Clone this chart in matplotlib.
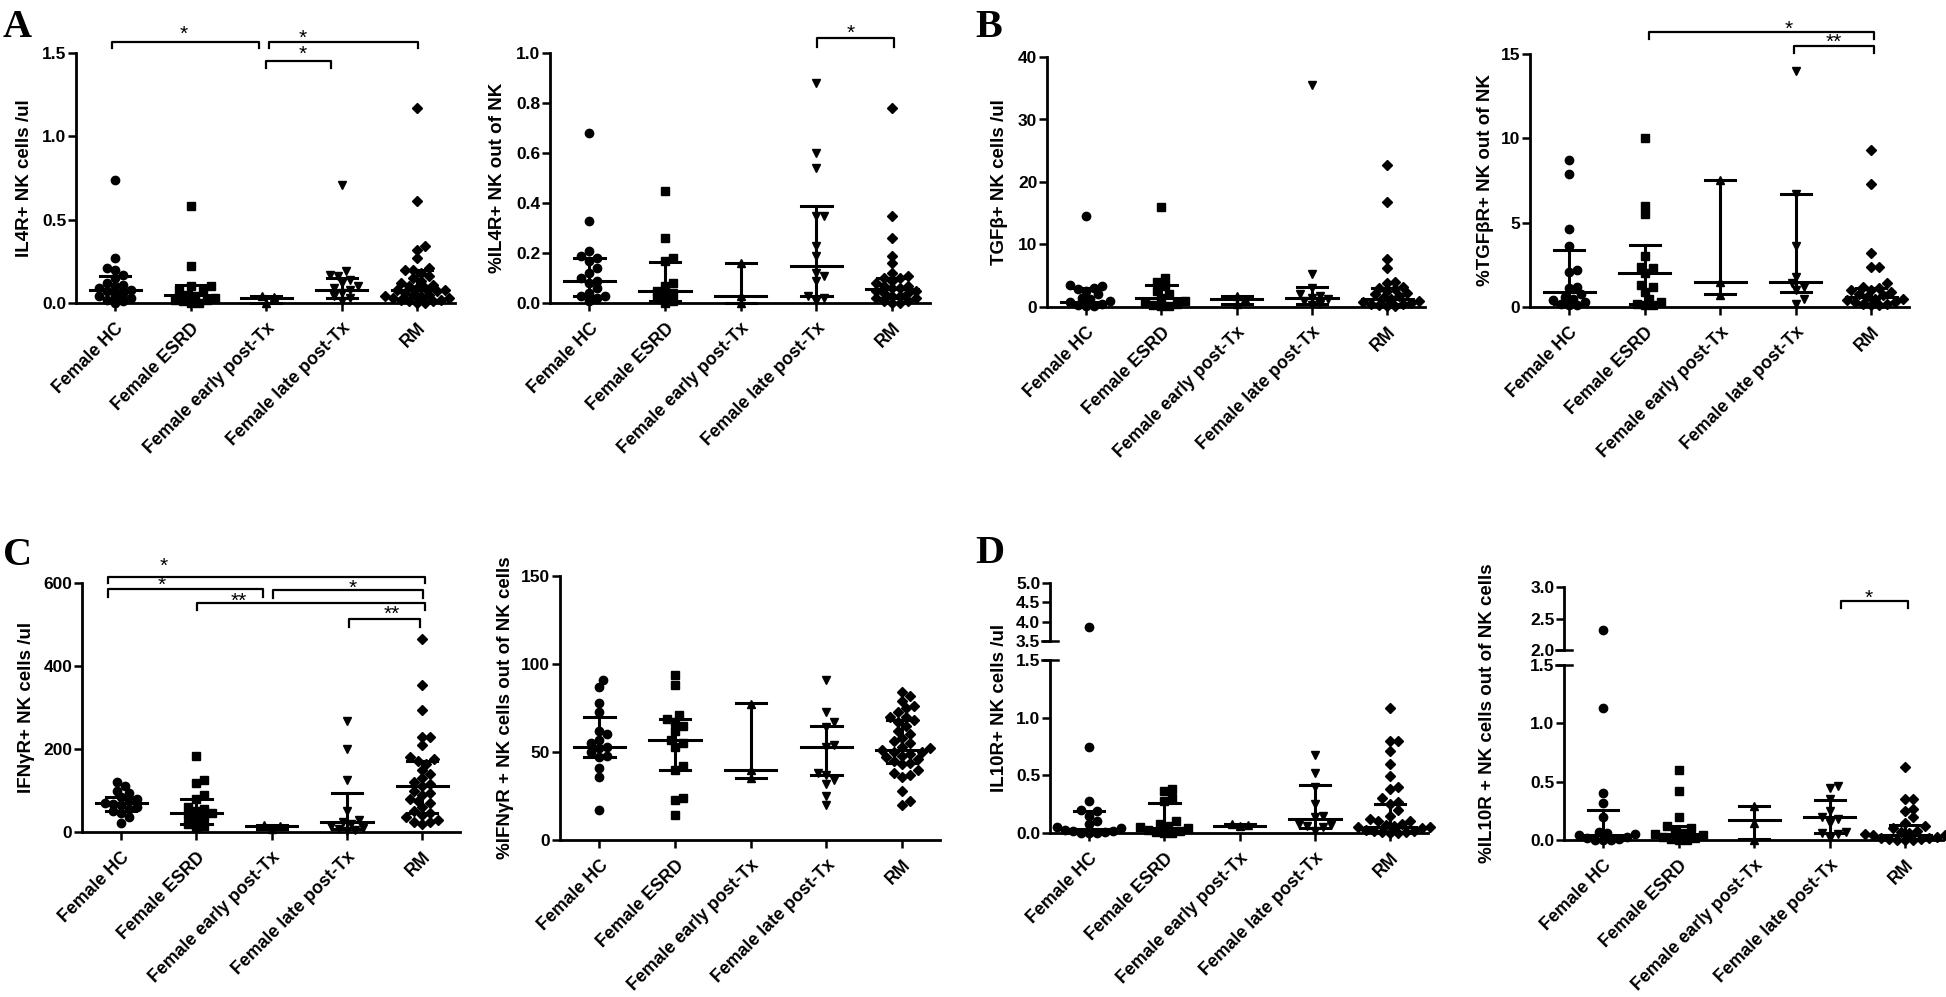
import numpy as np
import matplotlib
matplotlib.use('Agg')
import matplotlib.pyplot as plt
from matplotlib.lines import Line2D

W, H = 1946, 997
plt.rcParams['font.family'] = ['Liberation Sans', 'DejaVu Sans']

groups = ['Female HC', 'Female ESRD', 'Female early post-Tx', 'Female late post-Tx', 'RM']
markers = ['o', 's', '^', 'v', 'D']

# ---- A: IL4R+ NK cells /ul
il4r_abs = [
    [0.74, 0.27, 0.21, 0.20, 0.17, 0.15, 0.12, 0.11, 0.10, 0.09, 0.08, 0.07, 0.06, 0.05, 0.04, 0.03, 0.02, 0.01, 0.0],
    [0.58, 0.22, 0.10, 0.10, 0.08, 0.07, 0.05, 0.04, 0.03, 0.02, 0.02, 0.01, 0.0, 0.0],
    [0.04, 0.035, 0.0],
    [0.71, 0.19, 0.17, 0.16, 0.14, 0.12, 0.10, 0.09, 0.08, 0.06, 0.04, 0.03, 0.01],
    [1.17, 0.61, 0.34, 0.32, 0.27, 0.21, 0.20, 0.20, 0.18, 0.16, 0.15, 0.13, 0.12, 0.11, 0.10, 0.09, 0.09,
     0.08, 0.08, 0.07, 0.06, 0.05, 0.05, 0.04, 0.04, 0.03, 0.03, 0.02, 0.02, 0.01, 0.01, 0.0, 0.0],
]
il4r_abs_med = [0.08, 0.05, 0.03, 0.08, 0.08]
il4r_abs_q1 = [0.03, 0.01, 0.0, 0.03, 0.03]
il4r_abs_q3 = [0.16, 0.11, 0.04, 0.15, 0.20]

# ---- A: %IL4R+ NK out of NK
il4r_pct = [
    [0.68, 0.33, 0.21, 0.19, 0.18, 0.17, 0.14, 0.12, 0.10, 0.09, 0.08, 0.06, 0.04, 0.03, 0.03, 0.02, 0.01],
    [0.45, 0.26, 0.18, 0.17, 0.08, 0.07, 0.05, 0.04, 0.03, 0.02, 0.01, 0.0],
    [0.16, 0.03, 0.0],
    [0.88, 0.60, 0.54, 0.35, 0.35, 0.23, 0.19, 0.12, 0.11, 0.09, 0.03, 0.02, 0.01],
    [0.78, 0.35, 0.26, 0.19, 0.16, 0.12, 0.11, 0.10, 0.10, 0.09, 0.08, 0.07, 0.07, 0.06, 0.06, 0.05, 0.05,
     0.04, 0.04, 0.03, 0.03, 0.02, 0.02, 0.01, 0.01, 0.0, 0.0],
]
il4r_pct_med = [0.09, 0.05, 0.03, 0.15, 0.055]
il4r_pct_q1 = [0.03, 0.01, 0.0, 0.03, 0.02]
il4r_pct_q3 = [0.18, 0.165, 0.16, 0.39, 0.10]

# ---- B: TGFb+ NK cells /ul
tgfb_abs = [
    [14.5, 3.5, 3.3, 3.0, 2.8, 2.5, 2.0, 1.5, 1.2, 1.0, 0.8, 0.5, 0.3, 0.2, 0.1],
    [16.0, 4.7, 4.0, 3.3, 2.5, 2.0, 1.5, 1.0, 0.8, 0.5, 0.3, 0.2, 0.1],
    [1.8, 1.2, 0.5],
    [35.5, 5.2, 3.0, 2.0, 1.8, 1.5, 1.2, 1.0, 0.5, 0.3],
    [22.7, 16.8, 7.7, 6.2, 4.0, 3.8, 3.2, 3.0, 2.8, 2.5, 2.2, 2.0, 1.8, 1.5, 1.2, 1.0, 0.8, 0.6, 0.5, 0.4,
     0.3, 0.2, 0.1],
]
tgfb_abs_med = [0.8, 1.5, 1.2, 1.5, 1.2]
tgfb_abs_q1 = [0.2, 0.3, 0.5, 0.5, 0.4]
tgfb_abs_q3 = [3.0, 3.5, 1.8, 3.2, 3.0]

# ---- B: %TGFbR+ NK out of NK
tgfb_pct = [
    [8.7, 7.9, 4.6, 3.6, 2.2, 2.1, 1.2, 1.1, 0.8, 0.6, 0.5, 0.4, 0.3, 0.2, 0.1, 0.1],
    [10.0, 6.0, 5.5, 3.0, 2.4, 2.3, 2.0, 1.3, 1.2, 0.9, 0.5, 0.3, 0.2, 0.1, 0.1],
    [7.5, 1.5, 0.7],
    [14.0, 6.7, 3.6, 1.8, 1.4, 1.2, 1.0, 0.5, 0.2],
    [9.3, 7.3, 3.2, 2.4, 2.4, 1.4, 1.2, 1.1, 1.0, 1.0, 0.9, 0.8, 0.7, 0.6, 0.5, 0.5, 0.4, 0.3, 0.3, 0.2,
     0.2, 0.1, 0.1],
]
tgfb_pct_med = [0.9, 2.0, 1.5, 1.5, 0.6]
tgfb_pct_q1 = [0.2, 0.2, 0.75, 0.9, 0.2]
tgfb_pct_q3 = [3.4, 3.7, 7.5, 6.7, 1.1]

# ---- C: IFNgR+ NK cells /ul
ifngr_abs = [
    [120, 112, 100, 95, 85, 80, 75, 70, 68, 65, 60, 55, 50, 45, 35, 22],
    [182, 125, 118, 90, 80, 60, 55, 50, 45, 40, 35, 30, 20, 15, 10],
    [18, 14, 8],
    [268, 200, 125, 50, 30, 25, 20, 15, 10, 8, 5, 3],
    [465, 355, 295, 230, 230, 210, 180, 175, 170, 165, 150, 140, 130, 120, 115, 110, 100, 95, 90, 80, 75,
     70, 60, 50, 45, 40, 35, 30, 25, 25, 20],
]
ifngr_abs_med = [70, 45, 15, 25, 110]
ifngr_abs_q1 = [50, 20, 8, 8, 45]
ifngr_abs_q3 = [85, 80, 18, 95, 170]

# ---- C: %IFNgR + NK cells out of NK cells
ifngr_pct = [
    [91, 87, 78, 73, 62, 60, 57, 55, 53, 52, 50, 48, 47, 41, 36, 17],
    [94, 88, 71, 69, 67, 65, 62, 57, 55, 53, 42, 40, 24, 23, 14],
    [77, 40, 35],
    [91, 73, 67, 64, 54, 53, 38, 37, 34, 32, 25, 20],
    [84, 82, 79, 76, 75, 73, 70, 70, 68, 67, 65, 62, 60, 58, 56, 55, 53, 52, 51, 50, 50, 49, 48, 47, 46,
     45, 44, 43, 40, 38, 37, 36, 28, 22, 20],
]
ifngr_pct_med = [53, 57, 40, 53, 51]
ifngr_pct_q1 = [47, 40, 35, 37, 44]
ifngr_pct_q3 = [70, 69, 78, 65, 68]

# ---- D: IL10R+ NK cells /ul
il10r_abs = [
    [3.85, 0.75, 0.28, 0.20, 0.19, 0.15, 0.10, 0.08, 0.05, 0.04, 0.03, 0.02, 0.02, 0.01, 0.0, 0.0, 0.0],
    [0.38, 0.36, 0.30, 0.28, 0.10, 0.08, 0.06, 0.05, 0.04, 0.03, 0.02, 0.01, 0.0, 0.0],
    [0.08, 0.07, 0.06],
    [0.68, 0.52, 0.40, 0.25, 0.15, 0.14, 0.08, 0.07, 0.06, 0.05, 0.02],
    [1.08, 0.80, 0.80, 0.71, 0.60, 0.49, 0.40, 0.38, 0.30, 0.27, 0.25, 0.20, 0.15, 0.12, 0.10, 0.10, 0.08,
     0.07, 0.06, 0.05, 0.05, 0.04, 0.03, 0.02, 0.02, 0.01, 0.01, 0.0, 0.0],
]
il10r_abs_med = [0.035, 0.045, 0.065, 0.12, 0.055]
il10r_abs_q1 = [0.0, 0.0, 0.06, 0.04, 0.01]
il10r_abs_q3 = [0.19, 0.26, 0.08, 0.42, 0.25]

# ---- D: %IL10R + NK cells out of NK cells
il10r_pct = [
    [2.32, 1.13, 0.40, 0.32, 0.20, 0.07, 0.06, 0.05, 0.04, 0.03, 0.02, 0.01, 0.0, 0.0, 0.0],
    [0.60, 0.42, 0.20, 0.12, 0.10, 0.08, 0.06, 0.05, 0.04, 0.03, 0.02, 0.01, 0.0, 0.0],
    [0.29, 0.15, 0.0],
    [0.46, 0.45, 0.35, 0.25, 0.20, 0.18, 0.15, 0.07, 0.06, 0.05, 0.02],
    [0.63, 0.35, 0.35, 0.27, 0.25, 0.20, 0.15, 0.12, 0.10, 0.08, 0.07, 0.06, 0.05, 0.04, 0.04, 0.03, 0.02,
     0.02, 0.01, 0.01, 0.0, 0.0, 0.0],
]
il10r_pct_med = [0.04, 0.05, 0.17, 0.20, 0.04]
il10r_pct_q1 = [0.0, 0.0, 0.01, 0.06, 0.0]
il10r_pct_q3 = [0.26, 0.12, 0.29, 0.34, 0.13]

# significance brackets: (x1, x2, y, drop, label, label_x, label_y)
br_il4r_abs = [(-0.04, 1.91, 1.566, 1.53, '*', 0.91, 1.61),
               (2.04, 4.01, 1.566, 1.53, '*', 2.48, 1.59),
               (2.0, 2.86, 1.452, 1.41, '*', 2.48, 1.49)]
br_il4r_pct = [(3.01, 4.03, 1.06, 1.024, '*', 3.45, 1.08)]
br_tgfb_pct = [(1.06, 4.03, 16.3, 15.89, '*', 2.9, 16.45),
               (2.98, 4.03, 15.47, 15.06, '**', 3.5, 15.7)]
br_ifngr_abs = [(-0.18, 4.03, 614, 600, '*', 0.56, 640),
                (-0.17, 1.89, 585, 566, '*', 0.54, 594),
                (2.01, 4.01, 583, 564, '*', 3.07, 586),
                (1.01, 4.03, 552, 535, '**', 1.56, 556),
                (3.02, 3.97, 513, 494, '**', 3.6, 525)]
br_il10r_pct = [(3.15, 4.04, 2.78, 2.67, '*', 3.51, 2.82)]

fig = plt.figure(figsize=(W / 100, H / 100), dpi=100)
XLIM = (-0.52, 4.5)
TICK_FS = 12.5
XLAB_FS = 12.8


def add_ax(l, r, t, b):
    return fig.add_axes([l / W, 1 - b / H, (r - l) / W, (b - t) / H])


def swarm(vals, ppu, spx, d=8.0):
    vals = np.asarray(vals, float)
    xs = np.zeros(len(vals))
    placed = []
    cands = [0.0]
    for n in range(1, 40):
        cands += [n * d / 2, -n * d / 2]
    for i in np.argsort(vals):
        y = vals[i] * ppu
        off = 0.0
        for c in cands:
            if all((c - px) ** 2 + (y - py) ** 2 >= (d * 0.92) ** 2 for px, py in placed):
                off = c
                break
        placed.append((off, y))
        xs[i] = off / spx
    return xs


def style(ax, ylim, yticks, ylabels, xaxis=True):
    ax.set_xlim(*XLIM)
    ax.set_ylim(*ylim)
    ax.patch.set_alpha(0)
    ax.spines['top'].set_visible(False)
    ax.spines['right'].set_visible(False)
    ax.spines['left'].set_linewidth(2.0)
    ax.spines['bottom'].set_linewidth(2.0)
    ax.set_yticks(yticks)
    ax.set_yticklabels(ylabels, fontsize=TICK_FS, fontweight='bold')
    ax.tick_params(axis='y', width=1.8, length=6, pad=1)
    ax.tick_params(axis='x', width=1.8, length=6, pad=6)
    if xaxis:
        ax.set_xticks(range(5))
        ax.set_xticklabels(groups, rotation=45, ha='right', va='top', rotation_mode='anchor',
                           fontsize=XLAB_FS, fontweight='bold')
    else:
        ax.spines['bottom'].set_visible(False)
        ax.set_xticks([])


def draw_group_points(ax, data, lo, hi, ppu, spx):
    for i, vals in enumerate(data):
        v = np.array([x for x in vals if lo <= x <= hi])
        if len(v) == 0:
            continue
        xs = swarm(v - lo, ppu, spx)
        ax.plot(i + xs, v, linestyle='none', marker=markers[i], color='black',
                markersize=6.0 if markers[i] != 'D' else 5.3, clip_on=False, zorder=3)


def draw_iqr(ax, med, q1, q3):
    for i in range(5):
        ax.plot([i - 0.34, i + 0.34], [med[i], med[i]], color='black', lw=2.2, clip_on=False, zorder=4)
        ax.plot([i - 0.2, i + 0.2], [q1[i], q1[i]], color='black', lw=2.2, clip_on=False, zorder=4)
        ax.plot([i - 0.2, i + 0.2], [q3[i], q3[i]], color='black', lw=2.2, clip_on=False, zorder=4)
        ax.plot([i, i], [q1[i], q3[i]], color='black', lw=2.2, clip_on=False, zorder=4)


def draw_brackets(ax, brs):
    for x1, x2, y, drop, lab, lx, ly in brs:
        ax.plot([x1, x1, x2, x2], [drop, y, y, drop], color='black', lw=1.6, clip_on=False)
        ax.text(lx, ly, lab, ha='center', va='center', fontsize=15, clip_on=False)


def simple_panel(rect, data, med, q1, q3, ylim, yticks, ylabels, brs=None):
    l, r, t, b = rect
    ax = add_ax(l, r, t, b)
    style(ax, ylim, yticks, ylabels)
    ppu = (b - t) / (ylim[1] - ylim[0])
    spx = (r - l) / (XLIM[1] - XLIM[0])
    draw_group_points(ax, data, ylim[0], 1e9, ppu, spx)
    draw_iqr(ax, med, q1, q3)
    if brs:
        draw_brackets(ax, brs)
    return ax


def broken_panel(l, r, t_up, b_up, t_lo, b_lo, data, med, q1, q3,
                 ylim_lo, yt_lo, yl_lo, ylim_up, yt_up, yl_up, brs=None):
    spx = (r - l) / (XLIM[1] - XLIM[0])
    ax_lo = add_ax(l, r, t_lo, b_lo)
    style(ax_lo, ylim_lo, yt_lo, yl_lo)
    ax_up = add_ax(l, r, t_up, b_up)
    style(ax_up, ylim_up, yt_up, yl_up, xaxis=False)
    ppu_lo = (b_lo - t_lo) / (ylim_lo[1] - ylim_lo[0])
    ppu_up = (b_up - t_up) / (ylim_up[1] - ylim_up[0])
    draw_group_points(ax_lo, data, ylim_lo[0], ylim_lo[1], ppu_lo, spx)
    draw_group_points(ax_up, data, ylim_up[0], ylim_up[1], ppu_up, spx)
    draw_iqr(ax_lo, med, q1, q3)
    if brs:
        draw_brackets(ax_up, brs)
    # break marks
    for yy in (t_lo, b_up):
        fig.add_artist(Line2D([(l - 8) / W, (l + 8) / W], [1 - yy / H, 1 - yy / H],
                              color='black', lw=1.8))


# A
simple_panel((76, 455, 53, 303), il4r_abs, il4r_abs_med, il4r_abs_q1, il4r_abs_q3,
             (0, 1.5), [0, 0.5, 1.0, 1.5], ['0.0', '0.5', '1.0', '1.5'], br_il4r_abs)
simple_panel((550, 930, 53, 303), il4r_pct, il4r_pct_med, il4r_pct_q1, il4r_pct_q3,
             (0, 1.0), [0, 0.2, 0.4, 0.6, 0.8, 1.0], ['0.0', '0.2', '0.4', '0.6', '0.8', '1.0'], br_il4r_pct)
# B
simple_panel((1047, 1425, 57, 307), tgfb_abs, tgfb_abs_med, tgfb_abs_q1, tgfb_abs_q3,
             (0, 40), [0, 10, 20, 30, 40], ['0', '10', '20', '30', '40'])
simple_panel((1530, 1909, 54, 307), tgfb_pct, tgfb_pct_med, tgfb_pct_q1, tgfb_pct_q3,
             (0, 15), [0, 5, 10, 15], ['0', '5', '10', '15'], br_tgfb_pct)
# C
simple_panel((82, 460, 583, 832), ifngr_abs, ifngr_abs_med, ifngr_abs_q1, ifngr_abs_q3,
             (0, 600), [0, 200, 400, 600], ['0', '200', '400', '600'], br_ifngr_abs)
simple_panel((560, 940, 576, 840), ifngr_pct, ifngr_pct_med, ifngr_pct_q1, ifngr_pct_q3,
             (0, 150), [0, 50, 100, 150], ['0', '50', '100', '150'])
# D
broken_panel(1050, 1428, 583, 641, 660, 833, il10r_abs, il10r_abs_med, il10r_abs_q1, il10r_abs_q3,
             (0, 1.5), [0, 0.5, 1.0, 1.5], ['0.0', '0.5', '1.0', '1.5'],
             (3.5, 5.0), [3.5, 4.0, 4.5, 5.0], ['3.5', '4.0', '4.5', '5.0'])
broken_panel(1564, 1943, 587, 650, 665, 840, il10r_pct, il10r_pct_med, il10r_pct_q1, il10r_pct_q3,
             (0, 1.5), [0, 0.5, 1.0, 1.5], ['0.0', '0.5', '1.0', '1.5'],
             (2.0, 3.0), [2.0, 2.5, 3.0], ['2.0', '2.5', '3.0'], br_il10r_pct)

# y-axis titles
ylabs = [(25, 178, 'IL4R+ NK cells /ul'), (497, 178, '%IL4R+ NK out of NK'),
         (1000, 182, 'TGFβ+ NK cells /ul'), (1485, 180, '%TGFβR+ NK out of NK'),
         (27, 707, 'IFNγR+ NK cells /ul'), (505, 708, '%IFNγR + NK cells out of NK cells'),
         (1000, 708, 'IL10R+ NK cells /ul'), (1487, 713, '%IL10R + NK cells out of NK cells')]
for x, y, s in ylabs:
    fig.text(x / W, 1 - y / H, s, rotation=90, ha='center', va='center', fontsize=13.5, fontweight='bold')

# panel letters
for x, y, s in [(3, 37, 'A'), (975, 37, 'B'), (3, 565, 'C'), (975, 563, 'D')]:
    fig.text(x / W, 1 - y / H, s, ha='left', va='baseline', fontsize=29, fontweight='bold',
             family='Liberation Serif')

fig.savefig('out.png', dpi=100)
